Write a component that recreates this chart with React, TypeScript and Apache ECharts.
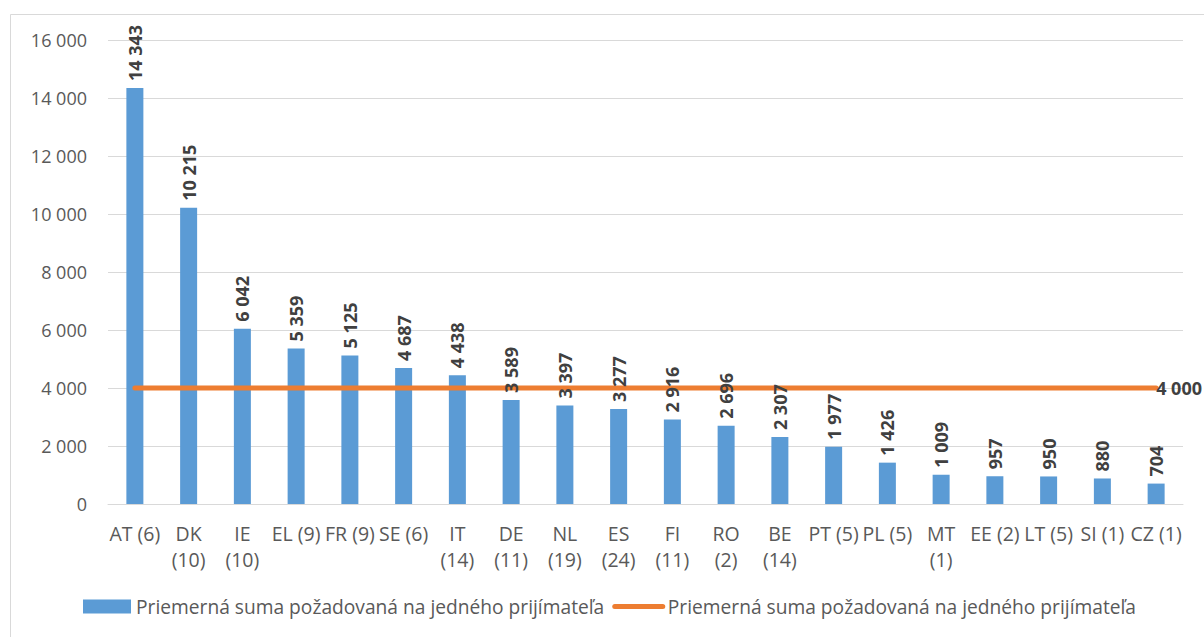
import React, { useEffect, useRef } from "react";
import * as echarts from "echarts";

const categories = [
  "AT (6)", "DK\n(10)", "IE\n(10)", "EL (9)", "FR (9)", "SE (6)", "IT\n(14)", "DE\n(11)", "NL\n(19)", "ES\n(24)",
  "FI\n(11)", "RO\n(2)", "BE\n(14)", "PT (5)", "PL (5)", "MT\n(1)", "EE (2)", "LT (5)", "SI (1)", "CZ (1)",
];
const barValues = [14343, 10215, 6042, 5359, 5125, 4687, 4438, 3589, 3397, 3277, 2916, 2696, 2307, 1977, 1426, 1009, 957, 950, 880, 704];
const averageValues = [4000, 4000, 4000, 4000, 4000, 4000, 4000, 4000, 4000, 4000, 4000, 4000, 4000, 4000, 4000, 4000, 4000, 4000, 4000, 4000];
const barName = "Priemerná suma požadovaná na jedného prijímateľa";
const lineName = "Priemerná suma požadovaná na jedného prijímateľa ";

const FONT = "'Open Sans', 'Noto Sans', sans-serif";
const fmt = (v: number) => String(v).replace(/\B(?=(\d{3})+(?!\d))/g, " ");

export default function App() {
  const ref = useRef<HTMLDivElement>(null);
  useEffect(() => {
    document.body.style.margin = "0";
    const chart = echarts.init(ref.current!, null, { renderer: "svg" });
    const labelStyle = {
      fontFamily: FONT,
      fontSize: 18,
      fontWeight: "bold",
      color: "#404040",
    };
    chart.setOption({
      animation: false,
      backgroundColor: "#ffffff",
      textStyle: { fontFamily: FONT },
      graphic: [
        {
          type: "rect",
          shape: { x: 10.5, y: 14.5, width: 1220, height: 660 },
          style: { fill: "none", stroke: "#D9D9D9", lineWidth: 1 },
          silent: true,
        },
      ],
      grid: { left: 108, right: 21, top: 40, bottom: 133, containLabel: false },
      legend: {
        left: 83,
        top: 597,
        padding: 0,
        itemWidth: 48,
        itemHeight: 14,
        itemGap: 8,
        textStyle: { fontFamily: FONT, fontSize: 19.2, color: "#595959" },
        data: [
          { name: barName, icon: "rect" },
          { name: lineName, itemStyle: { opacity: 0 }, lineStyle: { width: 5, color: "#ED7D31", cap: "round" } },
        ],
      },
      xAxis: {
        type: "category",
        data: categories,
        axisTick: { show: false },
        axisLine: { show: true, lineStyle: { color: "#D9D9D9", width: 1 } },
        axisLabel: {
          interval: 0,
          margin: 16,
          fontFamily: FONT,
          fontSize: 19.5,
          lineHeight: 26,
          color: "#595959",
        },
      },
      yAxis: {
        type: "value",
        min: 0,
        max: 16000,
        interval: 2000,
        axisLine: { show: false },
        axisTick: { show: false },
        splitLine: { lineStyle: { color: "#D9D9D9", width: 1 } },
        axisLabel: {
          margin: 21,
          fontFamily: FONT,
          fontSize: 18,
          color: "#595959",
          formatter: (v: number) => fmt(v),
        },
      },
      series: [
        {
          name: barName,
          type: "bar",
          data: barValues,
          barWidth: 17,
          itemStyle: { color: "#5B9BD5" },
          z: 2,
        },
        {
          name: lineName,
          type: "line",
          data: averageValues,
          symbol: "none",
          showSymbol: false,
          lineStyle: { color: "#ED7D31", width: 5, cap: "round" },
          itemStyle: { color: "#ED7D31" },
          endLabel: {
            show: true,
            distance: 0,
            ...labelStyle,
            formatter: (p: any) => fmt(p.value),
          },
          z: 3,
        },
        {
          name: "labels",
          type: "bar",
          data: barValues,
          barWidth: 17,
          barGap: "-100%",
          itemStyle: { color: "rgba(0,0,0,0)" },
          silent: true,
          z: 4,
          label: {
            show: true,
            position: "top",
            rotate: 90,
            align: "left",
            verticalAlign: "middle",
            distance: 7,
            ...labelStyle,
            formatter: (p: any) => fmt(p.value),
          },
        },
      ],
    });
    return () => chart.dispose();
  }, []);
  return <div ref={ref} style={{ width: 1204, height: 637 }} />;
}
